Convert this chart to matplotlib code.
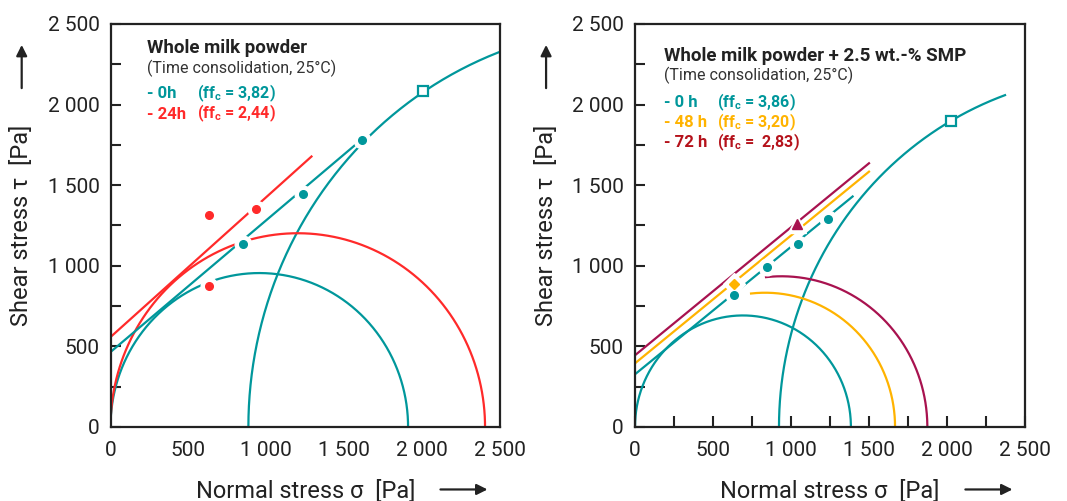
import numpy as np
import matplotlib.pyplot as plt
from matplotlib.ticker import FuncFormatter, MultipleLocator

plt.rcParams['font.family'] = ['Roboto', 'DejaVu Sans']
plt.rcParams['mathtext.fontset'] = 'custom'
plt.rcParams['mathtext.rm'] = 'Roboto'
plt.rcParams['mathtext.bf'] = 'Roboto:bold'

teal = '#00979b'
red = '#ff2a2a'
orange = '#ffb300'
crimson = '#a8124f'
darkred = '#b5121b'
ink = '#222222'

# Whole milk powder: Mohr circles as [centre, radius] in Pa
wmp_0h_small = [955, 955]
wmp_0h_large = [3370, 2485]
wmp_24h_circle = [1202, 1202]

# yield loci (start / end of the straight line)
wmp_0h_locus_sigma = [0, 1620]
wmp_0h_locus_tau = [465, 1790]
wmp_24h_locus_sigma = [0, 1290]
wmp_24h_locus_tau = [558, 1678]

# measured points
wmp_0h_pts_sigma = [850, 1235, 1615]
wmp_0h_pts_tau = [1138, 1448, 1782]
wmp_24h_pts_sigma = [635, 635, 935]
wmp_24h_pts_tau = [1315, 875, 1350]
wmp_0h_square = [2006, 2084]

# Whole milk powder + 2.5 wt.-% SMP
smp_0h_small = [692, 692]
smp_0h_large = [3110, 2187]
smp_0h_large_end = 2372
smp_48h_circle = [834, 833]
smp_48h_start = 744
smp_72h_circle = [939, 935]
smp_72h_start = 840

smp_0h_locus_sigma = [0, 1395]
smp_0h_locus_tau = [327, 1430]
smp_48h_locus_sigma = [0, 1500]
smp_48h_locus_tau = [395, 1584]
smp_72h_locus_sigma = [0, 1500]
smp_72h_locus_tau = [445, 1636]

smp_0h_pts_sigma = [635, 845, 1045, 1235]
smp_0h_pts_tau = [819, 990, 1138, 1290]
smp_48h_pt = [635, 890]
smp_72h_pt = [1040, 1258]
smp_0h_square = [2024, 1898]

ticks_major = [0, 500, 1000, 1500, 2000, 2500]


def arc(circle, t_from, t_to):
    t = np.radians(np.linspace(t_from, t_to, 400))
    return circle[0] + circle[1] * np.cos(t), circle[1] * np.sin(t)


def angle_at(circle, sigma):
    return np.degrees(np.arccos((sigma - circle[0]) / circle[1]))


def dots(ax, xs, ys, color, marker='o', ms=5.5):
    # white halo first so the lines get a small gap round each point
    ax.plot(xs, ys, marker, ms=ms + 6.5, color='white', zorder=4, ls='none')
    ax.plot(xs, ys, marker, ms=ms, color=color, zorder=5, ls='none')


def style_axes(ax, xticks_inside):
    ax.set_xlim(0, 2500)
    ax.set_ylim(0, 2500)
    fmt = FuncFormatter(lambda v, p: f'{int(v):,}'.replace(',', ' '))
    ax.xaxis.set_major_formatter(fmt)
    ax.yaxis.set_major_formatter(fmt)
    ax.set_xticks(ticks_major)
    ax.set_yticks(ticks_major)
    ax.yaxis.set_minor_locator(MultipleLocator(250))
    ax.xaxis.set_minor_locator(MultipleLocator(250))
    ax.tick_params(axis='y', which='both', direction='in', length=7.5,
                   width=1.5, color=ink, labelsize=15, labelcolor=ink, pad=8)
    xlen = 8 if xticks_inside else 0
    ax.tick_params(axis='x', which='both', direction='in', length=xlen,
                   width=1.5, color=ink, labelsize=15, labelcolor=ink, pad=10)
    for s in ax.spines.values():
        s.set_linewidth(1.6)
        s.set_color(ink)
    ax.text(0.5, -0.176, 'Normal stress σ  [Pa]', transform=ax.transAxes,
            ha='center', va='baseline', fontsize=17, color=ink)
    ax.text(-0.228, 0.5, 'Shear stress τ  [Pa]', transform=ax.transAxes,
            ha='center', va='center', rotation=90, fontsize=17, color=ink)
    ax.annotate('', xy=(0.975, -0.155), xytext=(0.84, -0.155),
                xycoords='axes fraction', annotation_clip=False,
                arrowprops=dict(arrowstyle='-|>', lw=1.6, color=ink,
                                mutation_scale=16))
    ax.annotate('', xy=(-0.228, 0.955), xytext=(-0.228, 0.834),
                xycoords='axes fraction', annotation_clip=False,
                arrowprops=dict(arrowstyle='-|>', lw=1.6, color=ink,
                                mutation_scale=16))


fig = plt.figure(figsize=(10.67, 5.01), dpi=100)
ax1 = fig.add_axes([110.5 / 1067, 74 / 501, 389.5 / 1067, 403 / 501])
ax2 = fig.add_axes([635 / 1067, 74 / 501, 390 / 1067, 403 / 501])

# ---- left panel
lw = 1.6
ax1.plot(*arc(wmp_0h_small, 180, 0), color=teal, lw=lw)
ax1.plot(*arc(wmp_0h_large, 180, 60), color=teal, lw=lw)
ax1.plot(*arc(wmp_24h_circle, 180, 0), color=red, lw=lw)
ax1.plot(wmp_0h_locus_sigma, wmp_0h_locus_tau, color=teal, lw=lw)
ax1.plot(wmp_24h_locus_sigma, wmp_24h_locus_tau, color=red, lw=lw)
dots(ax1, wmp_0h_pts_sigma, wmp_0h_pts_tau, teal)
dots(ax1, wmp_24h_pts_sigma, wmp_24h_pts_tau, red)
ax1.plot(*wmp_0h_square, 's', ms=7.5, mfc='white', mec=teal, mew=1.6, zorder=6)
style_axes(ax1, False)

ax1.text(0.094, 0.928, 'Whole milk powder', transform=ax1.transAxes,
         fontsize=13.5, fontweight='bold', color=ink, va='baseline')
ax1.text(0.094, 0.878, '(Time consolidation, 25°C)', transform=ax1.transAxes,
         fontsize=11.5, color='#333333', va='baseline')
ax1.text(0.094, 0.816, '- 0h', transform=ax1.transAxes, fontsize=12,
         fontweight='bold', color=teal, va='baseline')
ax1.text(0.222, 0.816, r'(ff$_\mathbf{c}$ = 3,82)', transform=ax1.transAxes,
         fontsize=11.5, fontweight='bold', color=teal, va='baseline')
ax1.text(0.094, 0.765, '- 24h', transform=ax1.transAxes, fontsize=12,
         fontweight='bold', color=red, va='baseline')
ax1.text(0.222, 0.765, r'(ff$_\mathbf{c}$ = 2,44)', transform=ax1.transAxes,
         fontsize=11.5, fontweight='bold', color=red, va='baseline')

# ---- right panel
ax2.plot(*arc(smp_0h_small, 180, 0), color=teal, lw=lw)
ax2.plot(*arc(smp_0h_large, 180, angle_at(smp_0h_large, smp_0h_large_end)),
         color=teal, lw=lw)
ax2.plot(*arc(smp_48h_circle, angle_at(smp_48h_circle, smp_48h_start), 0),
         color=orange, lw=lw)
ax2.plot(*arc(smp_72h_circle, angle_at(smp_72h_circle, smp_72h_start), 0),
         color=crimson, lw=lw)
ax2.plot(smp_0h_locus_sigma, smp_0h_locus_tau, color=teal, lw=lw)
ax2.plot(smp_48h_locus_sigma, smp_48h_locus_tau, color=orange, lw=lw)
ax2.plot(smp_72h_locus_sigma, smp_72h_locus_tau, color=crimson, lw=lw)
dots(ax2, smp_0h_pts_sigma, smp_0h_pts_tau, teal)
dots(ax2, [smp_48h_pt[0]], [smp_48h_pt[1]], orange, marker='D', ms=5)
dots(ax2, [smp_72h_pt[0]], [smp_72h_pt[1]], crimson, marker='^', ms=6.5)
ax2.plot(*smp_0h_square, 's', ms=7.5, mfc='white', mec=teal, mew=1.6, zorder=6)
style_axes(ax2, True)

ax2.text(0.074, 0.908, 'Whole milk powder + 2.5 wt.-% SMP', transform=ax2.transAxes,
         fontsize=13.5, fontweight='bold', color=ink, va='baseline')
ax2.text(0.074, 0.861, '(Time consolidation, 25°C)', transform=ax2.transAxes,
         fontsize=11.5, color='#333333', va='baseline')
rows = [('- 0 h', r'(ff$_\mathbf{c}$ = 3,86)', teal, 0.794),
        ('- 48 h', r'(ff$_\mathbf{c}$ = 3,20)', orange, 0.744),
        ('- 72 h', r'(ff$_\mathbf{c}$ =  2,83)', darkred, 0.695)]
for lab, ffc, col, yy in rows:
    ax2.text(0.074, yy, lab, transform=ax2.transAxes, fontsize=12,
             fontweight='bold', color=col, va='baseline')
    ax2.text(0.21, yy, ffc, transform=ax2.transAxes, fontsize=11.5,
             fontweight='bold', color=col, va='baseline')

fig.savefig('out.png', dpi=100)
